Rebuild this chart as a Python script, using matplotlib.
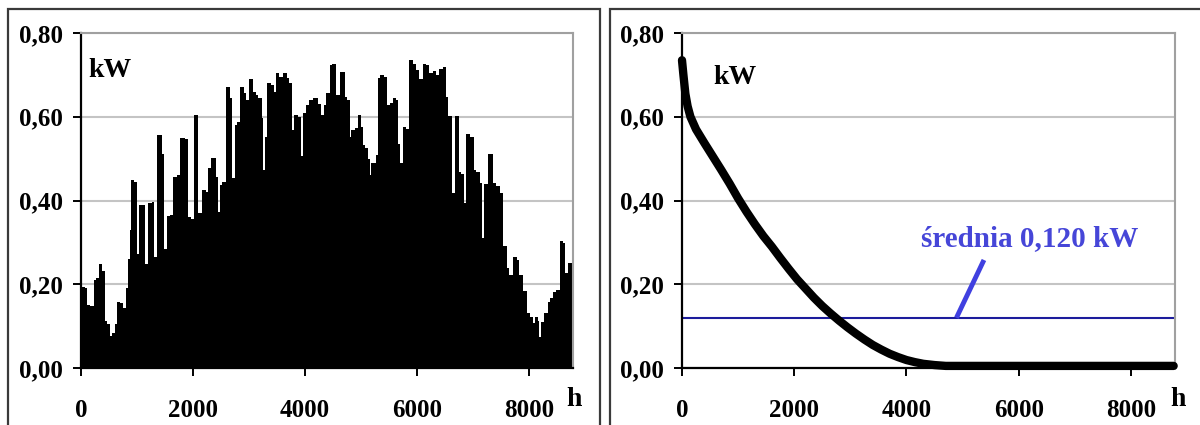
import matplotlib
matplotlib.use('Agg')
import matplotlib.pyplot as plt
from matplotlib.patches import Rectangle
from matplotlib.ticker import FuncFormatter

plt.rcParams['font.family'] = ['Liberation Serif', 'DejaVu Serif']
plt.rcParams['font.weight'] = 'bold'

step_start_h = [0, 65, 107, 154, 226, 273, 315, 374, 421, 463, 510, 558, 599, 647, 700, 748,
                795, 837, 866, 896, 955, 1003, 1044, 1145, 1205, 1264, 1312, 1359, 1442, 1490,
                1537, 1590, 1644, 1715, 1775, 1858, 1905, 1964, 2012, 2083, 2166, 2238, 2273,
                2327, 2416, 2451, 2487, 2522, 2594, 2653, 2700, 2742, 2784, 2831, 2902, 2950,
                2997, 3068, 3116, 3163, 3223, 3246, 3282, 3324, 3395, 3454, 3484, 3543, 3603,
                3674, 3721, 3769, 3810, 3870, 3929, 3971, 4018, 4066, 4137, 4226, 4291, 4338,
                4380, 4439, 4487, 4558, 4617, 4706, 4754, 4795, 4825, 4884, 4944, 4991, 5033,
                5074, 5122, 5152, 5181, 5229, 5258, 5300, 5347, 5407, 5460, 5508, 5567, 5626,
                5668, 5704, 5745, 5804, 5864, 5923, 5982, 6042, 6101, 6161, 6220, 6279, 6339,
                6398, 6463, 6511, 6552, 6629, 6671, 6748, 6790, 6831, 6867, 6938, 7009, 7057,
                7116, 7158, 7193, 7264, 7353, 7413, 7472, 7531, 7603, 7650, 7710, 7781, 7828,
                7888, 7959, 8018, 8066, 8101, 8155, 8184, 8220, 8273, 8333, 8374, 8422, 8481,
                8552, 8600, 8647, 8689]
step_kw = [0.193, 0.19, 0.15, 0.147, 0.21, 0.215, 0.248, 0.232, 0.112, 0.104, 0.076, 0.084,
           0.104, 0.158, 0.156, 0.144, 0.19, 0.26, 0.33, 0.45, 0.445, 0.273, 0.39, 0.249, 0.395,
           0.397, 0.265, 0.556, 0.512, 0.285, 0.362, 0.365, 0.455, 0.46, 0.55, 0.548, 0.36,
           0.357, 0.605, 0.37, 0.425, 0.421, 0.477, 0.501, 0.457, 0.373, 0.437, 0.445, 0.670,
           0.644, 0.453, 0.580, 0.588, 0.670, 0.656, 0.640, 0.689, 0.660, 0.652, 0.644, 0.596,
           0.473, 0.551, 0.681, 0.676, 0.658, 0.704, 0.696, 0.704, 0.692, 0.681, 0.568, 0.604,
           0.599, 0.506, 0.608, 0.628, 0.640, 0.644, 0.630, 0.604, 0.628, 0.656, 0.723, 0.727,
           0.652, 0.708, 0.648, 0.640, 0.552, 0.568, 0.572, 0.604, 0.576, 0.533, 0.525, 0.50,
           0.461, 0.489, 0.49, 0.508, 0.692, 0.70, 0.696, 0.628, 0.632, 0.644, 0.640, 0.535,
           0.49, 0.575, 0.57, 0.735, 0.727, 0.711, 0.689, 0.727, 0.723, 0.704, 0.710, 0.70,
           0.715, 0.720, 0.648, 0.602, 0.417, 0.602, 0.469, 0.463, 0.395, 0.559, 0.552, 0.473,
           0.469, 0.441, 0.310, 0.439, 0.511, 0.441, 0.435, 0.417, 0.291, 0.238, 0.222, 0.266,
           0.258, 0.222, 0.185, 0.131, 0.121, 0.107, 0.121, 0.113, 0.075, 0.111, 0.132, 0.158,
           0.166, 0.182, 0.186, 0.304, 0.298, 0.226, 0.250]
year_end_h = 8784

# duration curve (output sorted from highest)
dur_h = [0, 25, 60, 100, 150, 250, 400, 550, 700, 850, 1000, 1150, 1300, 1450, 1600, 1750,
         1900, 2050, 2200, 2350, 2500, 2650, 2800, 2950, 3100, 3250, 3400, 3550, 3700, 3850,
         4000, 4150, 4300, 4500, 4700, 5000, 8760]
dur_kw = [0.735, 0.70, 0.655, 0.625, 0.60, 0.57, 0.537, 0.505, 0.473, 0.44, 0.405, 0.373,
          0.343, 0.315, 0.29, 0.263, 0.237, 0.212, 0.19, 0.168, 0.148, 0.13, 0.113, 0.097,
          0.082, 0.068, 0.055, 0.044, 0.034, 0.026, 0.019, 0.014, 0.01, 0.007, 0.005, 0.005,
          0.005]
mean_kw = 0.120
mean_label = 'średnia 0,120 kW'

x_ticks = [0, 2000, 4000, 6000, 8000]
y_ticks = [0, 0.2, 0.4, 0.6, 0.8]

fig = plt.figure(figsize=(12, 4.25), dpi=100)
W, H = 1200.0, 425.0

# panel frames
for x0, x1 in [(8, 600), (610, 1205)]:
    fig.add_artist(Rectangle((x0 / W, -0.05), (x1 - x0) / W, (425 - 8.5) / H + 0.05,
                             transform=fig.transFigure, fill=False, ec='#3a3a3a', lw=1.6))

ax1 = fig.add_axes([81 / W, (425 - 368) / H, 492 / W, 335 / H])
ax2 = fig.add_axes([682 / W, (425 - 368) / H, 493 / W, 335 / H])


def style(ax):
    ax.set_xlim(0, year_end_h)
    ax.set_ylim(0, 0.8)
    ax.set_xticks(x_ticks)
    ax.set_yticks(y_ticks)
    ax.yaxis.set_major_formatter(FuncFormatter(lambda v, p: f'{v:.2f}'.replace('.', ',')))
    ax.grid(axis='y', color='#c4c4c4', lw=1.5)
    ax.set_axisbelow(True)
    for s in ['top', 'right']:
        ax.spines[s].set_color('#a0a0a0')
        ax.spines[s].set_linewidth(1.5)
    for s in ['left', 'bottom']:
        ax.spines[s].set_color('black')
        ax.spines[s].set_linewidth(1.6)
    ax.tick_params(direction='out', length=6, width=1.4, labelsize=18)
    ax.tick_params(axis='x', pad=16)
    ax.tick_params(axis='y', pad=7)


style(ax1)
style(ax2)

ax1.stairs(step_kw, step_start_h + [year_end_h], fill=True, color='black', baseline=0)
ax1.text(0.015, 0.925, 'kW', transform=ax1.transAxes, va='top', ha='left', fontsize=20)

ax2.axhline(mean_kw, color='#1c1c9c', lw=1.5, zorder=2)
ax2.plot(dur_h, dur_kw, color='black', lw=6, solid_capstyle='round',
         solid_joinstyle='round', clip_on=False, zorder=3)
ax2.text(0.063, 0.905, 'kW', transform=ax2.transAxes, va='top', ha='left', fontsize=20)
ax2.plot([4890, 5380], [mean_kw, 0.258], color='#4040e0', lw=3.5, solid_capstyle='butt')
ax2.text(6200, 0.308, mean_label, ha='center', va='center', fontsize=21, color='#4646d8')

for x in (574, 1178):
    fig.text(x / W, (425 - 399) / H, 'h', ha='center', va='center', fontsize=20)

fig.savefig('out.png', dpi=100)
